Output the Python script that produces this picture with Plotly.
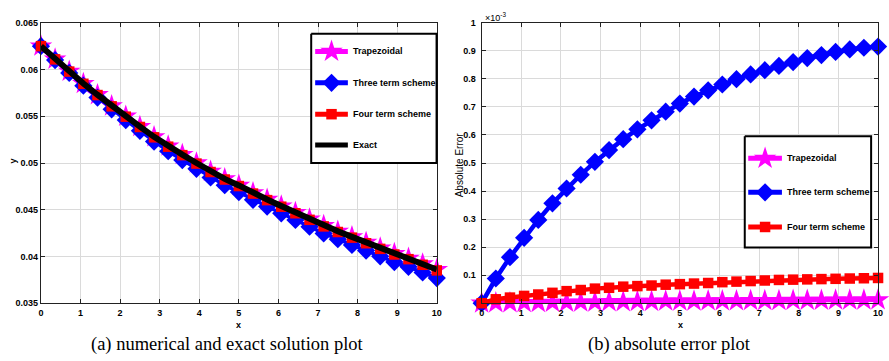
import numpy as np
import plotly.graph_objects as go

# ---------------------------------------------------------------- data
x_nodes = np.linspace(0, 10, 29)

exact = [0.0625, 0.0611, 0.0598, 0.0585, 0.0573, 0.0561, 0.0550, 0.0539,
         0.0528, 0.0518, 0.0509, 0.0500, 0.0491, 0.0483, 0.0476, 0.0468,
         0.0461, 0.0454, 0.0447, 0.0440, 0.0433, 0.0427, 0.0421, 0.0415,
         0.0409, 0.0403, 0.0398, 0.0392, 0.0386]

# absolute errors, in units of 1e-3
err_trap = [0.000, 0.001, 0.001, 0.002, 0.002, 0.003, 0.003, 0.004,
            0.004, 0.005, 0.005, 0.006, 0.006, 0.007, 0.007, 0.007,
            0.008, 0.008, 0.008, 0.009, 0.009, 0.009, 0.010, 0.010,
            0.010, 0.011, 0.011, 0.011, 0.012]
err_three = [0.000, 0.088, 0.164, 0.233, 0.297, 0.356, 0.409, 0.458,
             0.504, 0.546, 0.585, 0.620, 0.652, 0.683, 0.712, 0.737,
             0.759, 0.780, 0.799, 0.816, 0.831, 0.846, 0.860, 0.874,
             0.885, 0.896, 0.905, 0.911, 0.915]
err_four = [0.000, 0.014, 0.020, 0.026, 0.031, 0.037, 0.043, 0.047,
            0.052, 0.055, 0.059, 0.061, 0.063, 0.066, 0.068, 0.070,
            0.072, 0.075, 0.077, 0.079, 0.081, 0.083, 0.084, 0.085,
            0.086, 0.087, 0.088, 0.089, 0.090]

x_ticks = list(range(0, 11))
y_ticks_a = [0.035, 0.04, 0.045, 0.05, 0.055, 0.06, 0.065]
y_ticklabels_a = ["0.035", "0.04", "0.045", "0.05", "0.055", "0.06", "0.065"]
y_ticks_b = [0.1, 0.2, 0.3, 0.4, 0.5, 0.6, 0.7, 0.8, 0.9, 1.0]
y_ticklabels_b = ["0.1", "0.2", "0.3", "0.4", "0.5", "0.6", "0.7", "0.8", "0.9", "1"]

series_names = ["Trapezoidal", "Three term scheme", "Four term scheme", "Exact"]

# numerical solutions lie below the exact curve by their absolute error
sol_trap = [e - d * 1e-3 for e, d in zip(exact, err_trap)]
sol_three = [e - d * 1e-3 for e, d in zip(exact, err_three)]
sol_four = [e - d * 1e-3 for e, d in zip(exact, err_four)]

# ---------------------------------------------------------------- styles
MAGENTA, BLUE, RED, BLACK = "#ff00ff", "#0000ff", "#ff0000", "#000000"
SANS = "Liberation Sans, Arial, sans-serif"
SERIF = "Liberation Serif, Times New Roman, serif"
W, H = 889, 361

star = dict(symbol="star", size=17, color=MAGENTA, line=dict(width=0))
diamond = dict(symbol="diamond", size=14, color=BLUE, line=dict(width=0))
square = dict(symbol="square", size=10.5, color=RED, line=dict(width=0))

fig = go.Figure()


def add(xs, ys, color, width, marker, xa, ya, mode="lines+markers"):
    fig.add_trace(go.Scatter(
        x=xs, y=ys, mode=mode, line=dict(color=color, width=width),
        marker=marker, xaxis=xa, yaxis=ya, showlegend=False,
        cliponaxis=False, hoverinfo="skip"))


# (a) numerical and exact solutions
add(x_nodes, sol_trap, MAGENTA, 3.5, star, "x", "y")
add(x_nodes, sol_three, BLUE, 3.5, diamond, "x", "y")
add(x_nodes, sol_four, RED, 3.5, square, "x", "y")
add(x_nodes, exact, BLACK, 6, None, "x", "y", mode="lines")

# (b) absolute errors
add(x_nodes, err_trap, MAGENTA, 4.5, star, "x2", "y2")
add(x_nodes, err_three, BLUE, 4.5, diamond, "x2", "y2")
add(x_nodes, err_four, RED, 4.5, square, "x2", "y2")

# ---------------------------------------------------------------- legends
# drawn on a full-figure pixel axis so the boxes sit exactly in place


def legend_box(x0, x1, y0, y1):
    fig.add_trace(go.Scatter(
        x=[x0, x1, x1, x0, x0], y=[y0, y0, y1, y1, y0], mode="lines",
        fill="toself", fillcolor="white", line=dict(color=BLACK, width=2),
        xaxis="x3", yaxis="y3", showlegend=False, hoverinfo="skip"))


def legend_item(x0, x1, yc, color, width, marker, label):
    add([x0, x1], [yc, yc], color, width, None, "x3", "y3", mode="lines")
    if marker is not None:
        add([(x0 + x1) / 2], [yc], color, width, marker, "x3", "y3", mode="markers")
    fig.add_annotation(x=x1 + 3, y=yc, xref="x3", yref="y3", text="<b>%s</b>" % label,
                       showarrow=False, xanchor="left", yanchor="middle",
                       font=dict(family=SANS, size=9, color=BLACK))


legend_box(311, 437.5, 29.5, 162.5)
legend_item(315, 348, 47.7, MAGENTA, 5, star, series_names[0])
legend_item(315, 348, 80, BLUE, 5, diamond, series_names[1])
legend_item(315, 348, 112.3, RED, 5, square, series_names[2])
legend_item(315, 348, 144, BLACK, 5, None, series_names[3])

legend_box(748.5, 876, 135, 249.5)
legend_item(752, 786, 157.7, MAGENTA, 5, star, series_names[0])
legend_item(752, 786, 192.7, BLUE, 5, diamond, series_names[1])
legend_item(752, 786, 228.3, RED, 5, square, series_names[2])

# ---------------------------------------------------------------- axes
tickfont = dict(family=SANS, size=9, color=BLACK)
common = dict(showline=True, linecolor="#222222", linewidth=1.3, mirror="ticks",
              ticks="inside", ticklen=4, tickcolor="#222222", showgrid=True,
              gridcolor="#dadada", gridwidth=1, zeroline=False, tickfont=tickfont)

yb0, yt0 = (H - 306.7) / H, (H - 18.3) / H

fig.update_layout(
    width=W, height=H, margin=dict(l=0, r=0, t=0, b=0),
    paper_bgcolor="white", plot_bgcolor="rgba(0,0,0,0)",
    xaxis=dict(domain=[38.3 / W, 437.7 / W], range=[0, 10], tickvals=x_ticks,
               ticktext=["<b>%d</b>" % v for v in x_ticks], anchor="y",
               ticklabelstandoff=1, **common),
    yaxis=dict(domain=[yb0, yt0], range=[0.035, 0.065], tickvals=y_ticks_a,
               ticktext=["<b>%s</b>" % t for t in y_ticklabels_a], anchor="x", **common),
    xaxis2=dict(domain=[483 / W, 883 / W], range=[0, 10], tickvals=x_ticks,
                ticktext=["<b>%d</b>" % v for v in x_ticks], anchor="y2",
                ticklabelstandoff=1, **common),
    yaxis2=dict(domain=[yb0, yt0], range=[0, 1], tickvals=y_ticks_b,
                ticktext=["<b>%s</b>" % t for t in y_ticklabels_b], anchor="x2",
                ticklabelstandoff=3, **common),
    xaxis3=dict(domain=[0, 1], range=[0, W], visible=False, anchor="y3", fixedrange=True),
    yaxis3=dict(domain=[0, 1], range=[H, 0], visible=False, anchor="x3", fixedrange=True),
)

# ---------------------------------------------------------------- labels
def label(x, y, text, size=9, family=SANS, angle=0, xanchor="center", yanchor="middle"):
    fig.add_annotation(x=x / W, y=1 - y / H, xref="paper", yref="paper", text=text,
                       showarrow=False, textangle=angle, xanchor=xanchor,
                       yanchor=yanchor, font=dict(family=family, size=size, color=BLACK))


label(238, 329, "<b>x</b>")
label(684, 329, "<b>x</b>")
label(10, 160, "<b>y</b>", angle=-90)
label(461, 164, "Absolute Error", size=10, angle=-90)
label(484, 12, "×10<sup>-3</sup>", size=9, xanchor="left")
label(226.5, 349, "(a) numerical and exact solution plot", size=18.5, family=SERIF)
label(672.5, 349, "(b) absolute error plot", size=18.5, family=SERIF)

fig.write_html("out.html")
